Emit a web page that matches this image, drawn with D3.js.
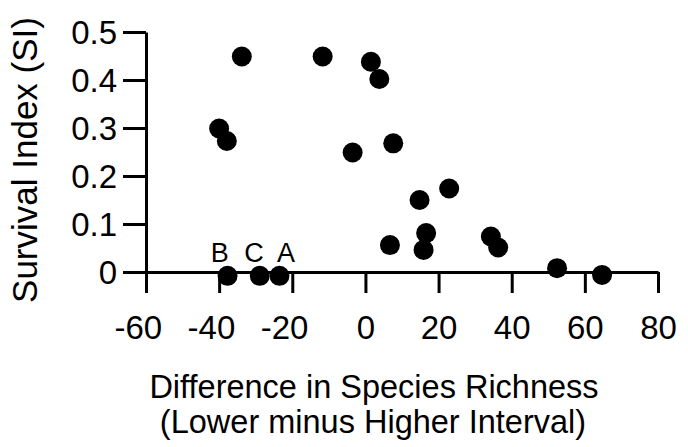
<!DOCTYPE html>
<html>
<head>
<meta charset="utf-8">
<script src="https://cdn.jsdelivr.net/npm/d3@7"></script>
<style>
  body { margin: 0; background: #fff; }
  svg { display: block; font-family: "Liberation Sans", Arial, sans-serif; }
</style>
</head>
<body>
<div id="chart"></div>
<script>
// values
const richnessDiff = [-33.8, -11.7, 1.5, 3.8, -40.0, -37.9, -3.5, 7.6, 14.8, 22.9,
  16.6, 15.9, 6.7, 34.3, 36.3, 52.4, 64.7, -37.7, -28.9, -23.5]
const survival = [0.449, 0.449, 0.438, 0.402, 0.299, 0.273, 0.249, 0.268, 0.150, 0.174,
  0.081, 0.046, 0.056, 0.074, 0.051, 0.008, -0.006, -0.008, -0.008, -0.008]

const pointLabels = ["B", "C", "A"]
const labelX = [-39.8, -30.5, -21.7]
const labelY = [0.02, 0.02, 0.02]

const xTicks = [-60, -40, -20, 0, 20, 40, 60, 80]
const yTicks = [0, 0.1, 0.2, 0.3, 0.4, 0.5]

const width = 688, height = 447

const svg = d3.select("#chart").append("svg")
  .attr("width", width)
  .attr("height", height)
  .attr("viewBox", [0, 0, width, height])

const x = d3.scaleLinear().domain([-60, 80]).range([146, 658])
const y = d3.scaleLinear().domain([0, 0.5]).range([272, 32])

const xAxis = g => g
  .attr("transform", `translate(0,${y(0)})`)
  .call(d3.axisBottom(x)
    .tickValues(xTicks)
    .tickSize(21)
    .tickSizeOuter(0)
    .tickFormat(d => String(d)))
  .call(g => g.select(".domain").attr("stroke-width", 3))
  .call(g => g.selectAll(".tick line").attr("stroke-width", 3))
  .call(g => g.selectAll(".tick text")
    .attr("y", 67).attr("dy", null)
    .attr("dx", d => d < 0 ? "-0.25em" : null)
    .attr("font-size", 33).attr("fill", "#000"))

const yAxis = g => g
  .attr("transform", `translate(${x(-60)},0)`)
  .call(d3.axisLeft(y)
    .tickValues(yTicks)
    .tickSize(23)
    .tickPadding(6)
    .tickSizeOuter(0)
    .tickFormat(d3.format("~g")))
  .call(g => g.select(".domain").attr("stroke-width", 3))
  .call(g => g.selectAll(".tick line").attr("stroke-width", 3))
  .call(g => g.selectAll(".tick text")
    .attr("dy", "0.35em")
    .attr("font-size", 33).attr("fill", "#000"))

svg.append("g").call(yAxis).attr("font-family", null)
svg.append("g").call(xAxis).attr("font-family", null)

svg.append("g")
  .selectAll("circle")
  .data(richnessDiff.map((d, i) => ({x: d, y: survival[i]})))
  .join("circle")
    .attr("cx", d => x(d.x))
    .attr("cy", d => y(d.y))
    .attr("r", 10)
    .attr("fill", "#000")

svg.append("g")
  .attr("text-anchor", "middle")
  .attr("font-size", 27)
  .selectAll("text")
  .data(pointLabels)
  .join("text")
    .attr("x", (d, i) => x(labelX[i]))
    .attr("y", (d, i) => y(labelY[i]))
    .text(d => d)

svg.append("text")
  .attr("transform", "translate(37,160) rotate(-90)")
  .attr("text-anchor", "middle")
  .attr("font-size", 35)
  .text("Survival Index (SI)")

const xTitle = svg.append("text")
  .attr("text-anchor", "middle")
  .attr("font-size", 32.5)

xTitle.append("tspan").attr("x", 374).attr("y", 398)
  .text("Difference in Species Richness")
xTitle.append("tspan").attr("x", 373).attr("y", 433)
  .text("(Lower minus Higher Interval)")
</script>
</body>
</html>
